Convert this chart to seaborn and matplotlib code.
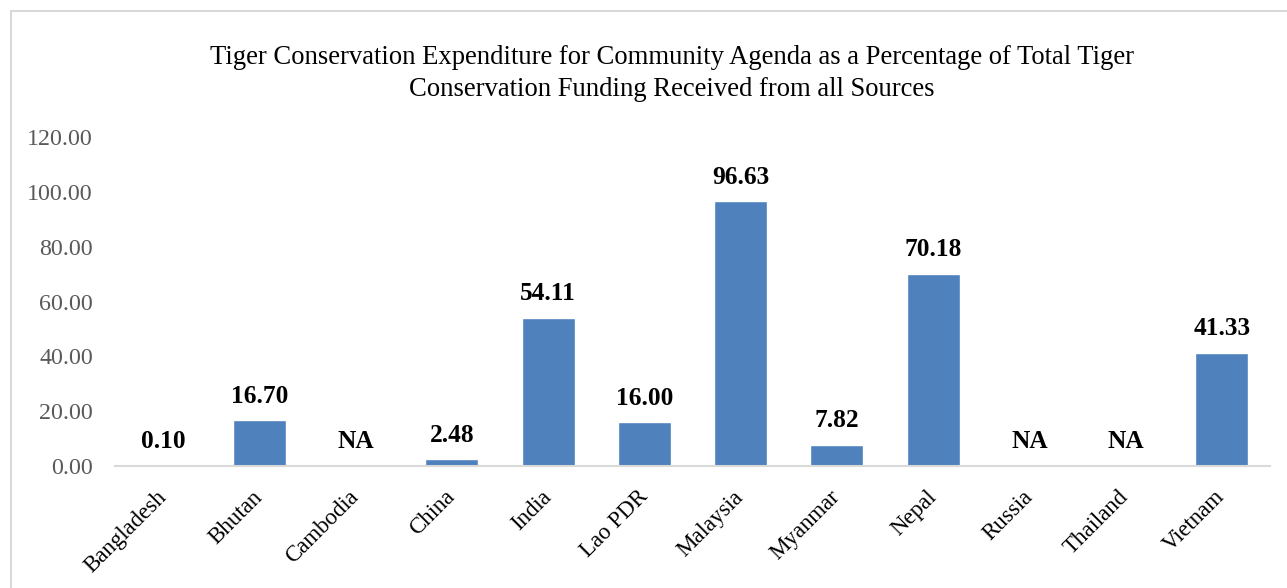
import numpy as np
import pandas as pd
import matplotlib
matplotlib.use("Agg")
import matplotlib.pyplot as plt
import seaborn as sns
from matplotlib.patches import Rectangle

countries = ["Bangladesh", "Bhutan", "Cambodia", "China", "India", "Lao PDR",
             "Malaysia", "Myanmar", "Nepal", "Russia", "Thailand", "Vietnam"]
# NaN marks countries with no reported figure (shown as "NA")
percent = [0.10, 16.70, np.nan, 2.48, 54.11, 16.00,
           96.63, 7.82, 70.18, np.nan, np.nan, 41.33]
y_ticks = [0, 20, 40, 60, 80, 100, 120]
title = ("Tiger Conservation Expenditure for Community Agenda as a Percentage of Total Tiger\n"
         "Conservation Funding Received from all Sources")

sns.set_theme(style="white")
plt.rcParams["font.family"] = ["Liberation Serif", "DejaVu Serif"]

df = pd.DataFrame({"country": countries, "percent": percent})

fig = plt.figure(figsize=(12.87, 5.88), dpi=100)
ax = fig.add_axes([115 / 1287, 1 - 466 / 588, 1155 / 1287, 329 / 588])

sns.barplot(data=df, x="country", y="percent", color="#4f81bd", width=0.55,
            saturation=1, ax=ax)

ax.set_ylim(0, 120)
ax.set_yticks(y_ticks)
ax.set_yticklabels([f"{v:.2f}" for v in y_ticks], color="#595959", fontsize=17.3)
ax.set_xlim(-0.5, len(countries) - 0.5)
ax.set_xlabel("")
ax.set_ylabel("")
ax.tick_params(axis="both", length=0)
ax.tick_params(axis="y", pad=16)
ax.tick_params(axis="x", pad=20)
plt.setp(ax.get_xticklabels(), rotation=45, ha="right", va="center",
         rotation_mode="anchor", fontsize=16.5, color="black")

for side in ["top", "right", "left"]:
    ax.spines[side].set_visible(False)
ax.spines["bottom"].set_color("#d9d9d9")
ax.spines["bottom"].set_linewidth(1.5)

for i, v in enumerate(percent):
    txt = "NA" if np.isnan(v) else f"{v:.2f}"
    base = 0 if np.isnan(v) else v
    ax.annotate(txt, xy=(i, base), xytext=(0, 9), textcoords="offset points",
                ha="center", va="bottom", fontsize=18.3, fontweight="bold",
                color="black")

fig.text(0.522, 1 - 73.5 / 588, title, ha="center", va="center", fontsize=19.2,
         color="black", linespacing=1.32)

# light frame around the chart area
fig.patches.append(Rectangle((11 / 1287, -0.1), 1.2, 1 - 11 / 588 + 0.1,
                             transform=fig.transFigure, fill=False,
                             edgecolor="#d9d9d9", linewidth=1.5))

fig.savefig("out.png", dpi=100)
